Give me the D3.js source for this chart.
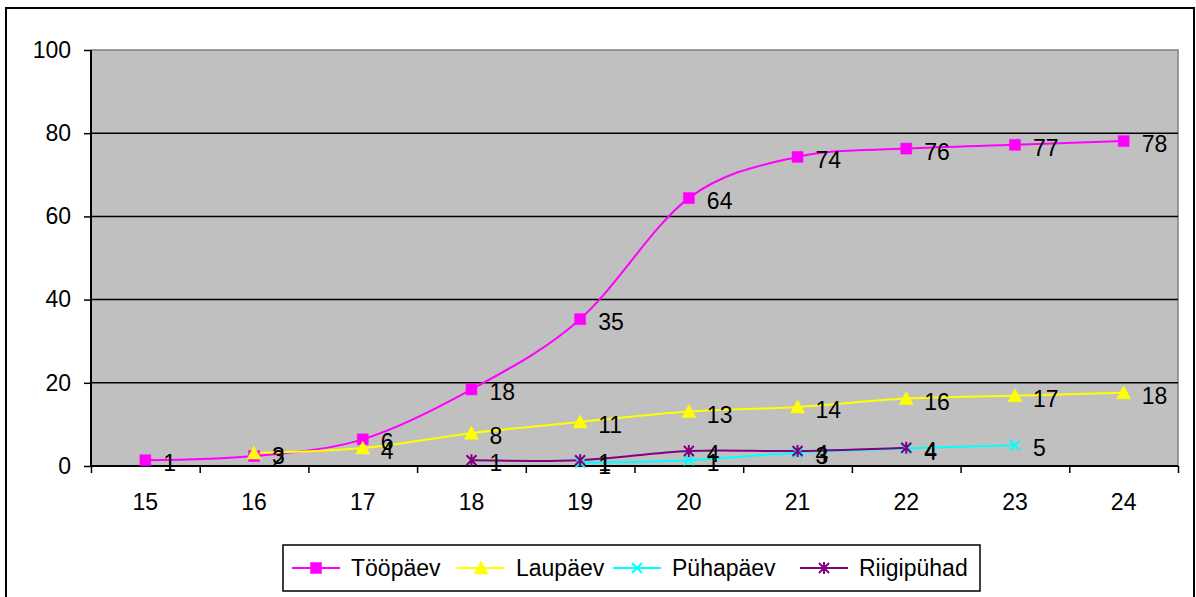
<!DOCTYPE html>
<html><head><meta charset="utf-8">
<script src="https://cdn.jsdelivr.net/npm/d3@7"></script>
<style>body{margin:0;background:#fff}svg{display:block}text{font-family:Arial,"Liberation Sans",sans-serif;fill:#000}</style>
</head><body><svg id="c" width="1196" height="597"></svg>
<script>
const categories = ["15","16","17","18","19","20","21","22","23","24"];
const tooPaev   = [1.4, 2.4, 6.4, 18.4, 35.3, 64.4, 74.3, 76.3, 77.2, 78.1];
const laupaev   = [null, 3.1, 4.3, 7.9, 10.6, 13.1, 14.2, 16.2, 16.9, 17.6];
const puhapaev  = [null, null, null, null, 0.8, 1.4, 3.2, 4.2, 5.0, null];
const riigipuhad= [null, null, null, 1.4, 1.4, 3.6, 3.6, 4.4, null, null];
const yTicks = [0, 20, 40, 60, 80, 100];
const seriesNames = ["Tööpäev", "Laupäev", "Pühapäev", "Riigipühad"];

const series = [
  {name: seriesNames[0], values: tooPaev, color: "#FF00FF", marker: "square"},
  {name: seriesNames[1], values: laupaev, color: "#FFFF00", marker: "triangle"},
  {name: seriesNames[2], values: puhapaev, color: "#00FFFF", marker: "x"},
  {name: seriesNames[3], values: riigipuhad, color: "#800080", marker: "star"}
];

const FS = "23px";
const svg = d3.select("#c");
const L = 91, R = 1178, T = 50, B = 466;
const x = d3.scaleBand().domain(categories).range([L, R]);
const xi = d3.scaleLinear().domain([0, categories.length]).range([L, R]);
const y = d3.scaleLinear().domain([0, 100]).range([B, T]);
const cx = c => x(c) + x.bandwidth() / 2;

// outer border
svg.append("rect").attr("x", 6).attr("y", 8).attr("width", 1188).attr("height", 620)
  .attr("fill", "none").attr("stroke", "#000").attr("stroke-width", 2);

// plot background
svg.append("rect").attr("x", L).attr("y", T).attr("width", R - L).attr("height", B - T)
  .attr("fill", "#C0C0C0").attr("stroke", "#808080").attr("stroke-width", 1.5);

// gridlines
svg.append("g").selectAll("line").data(yTicks.filter(v => v > 0 && v < 100)).join("line")
  .attr("x1", L).attr("x2", R).attr("y1", d => y(d)).attr("y2", d => y(d))
  .attr("stroke", "#000").attr("stroke-width", 1.5);

// y axis
const ya = svg.append("g").attr("transform", `translate(${L},0)`)
  .call(d3.axisLeft(y).tickValues(yTicks).tickSize(7).tickPadding(13));
ya.attr("font-size", null).attr("font-family", null);
ya.select(".domain").attr("stroke", "#000").attr("stroke-width", 2).attr("d", `M0,${T}V${B}`);
ya.selectAll(".tick line").attr("stroke", "#000").attr("stroke-width", 1.5);
ya.selectAll("text").style("font-size", FS);

// x axis ticks (category boundaries)
const xa = svg.append("g").attr("transform", `translate(0,${B})`)
  .call(d3.axisBottom(xi).tickValues(d3.range(categories.length + 1)).tickSize(7).tickFormat(""));
xa.select(".domain").attr("stroke", "#000").attr("stroke-width", 2).attr("d", `M${L},0H${R}`);
xa.selectAll(".tick line").attr("stroke", "#000").attr("stroke-width", 1.5);
// x labels
const xl = svg.append("g").attr("transform", `translate(0,${B})`)
  .call(d3.axisBottom(x).tickSize(0).tickPadding(28));
xl.attr("font-size", null).attr("font-family", null);
xl.select(".domain").remove();
xl.selectAll("text").style("font-size", FS);

function markerPath(type) {
  if (type === "square") return "M-5.5,-5.5H5.5V5.5H-5.5Z";
  if (type === "triangle") return "M0,-7L7,6H-7Z";
  if (type === "x") return "M-5,-5L5,5M-5,5L5,-5";
  return "M-5,-5L5,5M-5,5L5,-5M0,-6V6";
}
function drawMarker(g, type, color) {
  const filled = type === "square" || type === "triangle";
  g.append("path").attr("d", markerPath(type))
    .attr("fill", filled ? color : "none")
    .attr("stroke", color).attr("stroke-width", filled ? 0.5 : 2);
}

const line = d3.line().defined(d => d.v != null)
  .x(d => cx(d.c)).y(d => y(d.v)).curve(d3.curveCatmullRom.alpha(0));

series.forEach(s => {
  const pts = categories.map((c, i) => ({c, v: s.values[i]}));
  svg.append("path").datum(pts).attr("d", line)
    .attr("fill", "none").attr("stroke", s.color).attr("stroke-width", 2);
});
series.forEach(s => {
  const pts = categories.map((c, i) => ({c, v: s.values[i]})).filter(d => d.v != null);
  pts.forEach(d => {
    const g = svg.append("g").attr("transform", `translate(${cx(d.c)},${y(d.v)})`);
    drawMarker(g, s.marker, s.color);
  });
});
series.forEach(s => {
  const pts = categories.map((c, i) => ({c, v: s.values[i]})).filter(d => d.v != null);
  svg.append("g").selectAll("text").data(pts).join("text")
    .attr("x", d => cx(d.c) + 18).attr("y", d => y(d.v) + 11)
    .style("font-size", FS)
    .text(d => Math.round(d.v));
});

// legend
const lg = svg.append("g");
lg.append("rect").attr("x", 283).attr("y", 545).attr("width", 697).attr("height", 46)
  .attr("fill", "#fff").attr("stroke", "#000").attr("stroke-width", 1.5);
const legX = [292, 457, 613, 800];
series.forEach((s, i) => {
  const g = lg.append("g").attr("transform", `translate(${legX[i]},568)`);
  g.append("line").attr("x1", 0).attr("x2", 48).attr("stroke", s.color).attr("stroke-width", 2);
  const m = g.append("g").attr("transform", "translate(24,0)");
  drawMarker(m, s.marker, s.color);
  g.append("text").attr("x", 59).attr("y", 8).style("font-size", FS).text(s.name);
});
</script></body></html>
